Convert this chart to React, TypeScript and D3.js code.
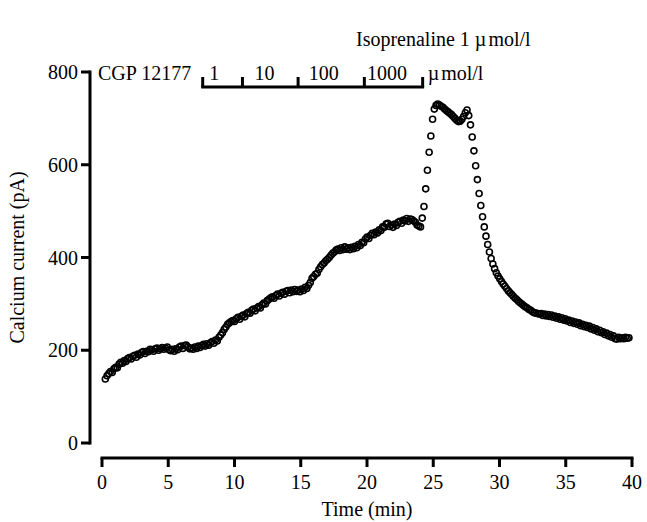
import React from "react";
import * as d3 from "d3";

// Sampling of the recording (min)
const SAMPLE_START = 0.25;
const SAMPLE_INTERVAL = 0.13;

// Calcium current (pA), one value per sample
const currentValues: number[] = [
  138, 145, 150, 154, 152, 160, 163, 162, 170, 174,
  172, 178, 176, 182, 184, 181, 187, 189, 185, 192,
  190, 195, 197, 193, 198, 197, 202, 201, 198, 203,
  205, 200, 203, 206, 202, 205, 207, 201, 199, 202,
  198, 203, 201, 207, 209, 204, 210, 211, 207, 203,
  205, 202, 207, 204, 209, 206, 210, 213, 209, 214,
  211, 216, 219, 215, 222, 220, 228, 233, 238, 245,
  250, 256, 259, 262, 264, 262, 268, 271, 267, 273,
  276, 272, 279, 282, 280, 286, 289, 285, 291, 294,
  291, 298, 302, 300, 307, 310, 313, 315, 312, 318,
  321, 317, 323, 325, 321, 327, 329, 324, 330, 326,
  331, 327, 330, 326, 332, 329, 336, 333, 340, 346,
  355, 359, 364, 366, 374, 380, 385, 388, 393, 396,
  400, 405, 409, 412, 416, 418, 415, 421, 417, 423,
  418, 421, 417, 422, 419, 424, 421, 428, 426, 433,
  432, 440, 444, 441, 448, 452, 449, 455, 453, 460,
  458, 466, 465, 472, 474, 467, 470, 465, 472, 469,
  476, 478, 474, 481, 479, 484, 478, 483, 482, 479,
  476, 470, 468, 466,
  485, 510, 548, 588, 627, 662, 698, 720, 728, 731,
  729, 726, 724, 720, 717, 714, 711, 708, 704, 700,
  696, 693, 694, 698, 704, 712, 718, 706, 686,
  660, 630, 598, 568, 538, 512, 488, 466, 446, 428,
  412, 398, 386, 376, 367, 360, 354, 348, 343, 338,
  333, 328, 324, 320, 316, 312, 309, 305, 302, 299,
  296, 293, 291, 288, 286, 283, 281, 280, 279, 278,
  279, 275, 278, 274, 277, 273, 276, 271, 274, 269,
  272, 267, 270, 265, 268, 263, 265, 260, 263, 258,
  261, 256, 259, 253, 256, 251, 254, 249, 252, 246,
  249, 243, 246, 240, 243, 238, 240, 234, 237, 231,
  234, 228, 231, 225, 224, 228, 225, 227, 225, 228, 226, 227,
];

const xTicks = [0, 5, 10, 15, 20, 25, 30, 35, 40];
const yTicks = [0, 200, 400, 600, 800];

// CGP 12177 application periods (min) and concentrations (µmol/l)
const cgpBoundaries = [7.6, 10.6, 14.8, 19.8, 24.2];
const cgpLabels = ["1", "10", "100", "1000"];
const cgpLabelTimes = [8.1, 11.5, 15.6, 20.0];

const W = 647;
const H = 522;
const FONT = "'Liberation Serif', 'Times New Roman', Times, serif";

export default function App() {
  const x = d3.scaleLinear().domain([0, 40]).range([102, 632]);
  const y = d3.scaleLinear().domain([0, 800]).range([443, 72]);
  const xAxisY = 458;
  const yAxisX = 90;
  const points = currentValues.map((v, i) => ({
    t: SAMPLE_START + i * SAMPLE_INTERVAL,
    v,
  }));
  const bracketY = 87;
  const bracketTop = 77;

  return (
    <svg
      width={W}
      height={H}
      style={{ position: "absolute", left: 0, top: 0, background: "#fff" }}
      fontFamily={FONT}
    >
      <rect width={W} height={H} fill="#fff" />
      {/* Y axis */}
      <line x1={yAxisX} x2={yAxisX} y1={y(800) - 1.5} y2={y(0) + 1.5} stroke="#000" strokeWidth={3} />
      {yTicks.map((t) => (
        <g key={"y" + t}>
          <line x1={yAxisX - 9} x2={yAxisX} y1={y(t)} y2={y(t)} stroke="#000" strokeWidth={3} />
          <text x={yAxisX - 12} y={y(t)} dy="0.35em" textAnchor="end" fontSize={20}>
            {t}
          </text>
        </g>
      ))}
      <text
        transform={`translate(24,${(y(0) + y(800)) / 2}) rotate(-90)`}
        textAnchor="middle"
        fontSize={20}
      >
        Calcium current (pA)
      </text>
      {/* X axis */}
      <line x1={x(0) - 1.5} x2={x(40) + 1.5} y1={xAxisY} y2={xAxisY} stroke="#000" strokeWidth={3} />
      {xTicks.map((t) => (
        <g key={"x" + t}>
          <line x1={x(t)} x2={x(t)} y1={xAxisY} y2={xAxisY + 9} stroke="#000" strokeWidth={3} />
          <text x={x(t)} y={xAxisY + 31} textAnchor="middle" fontSize={20}>
            {t}
          </text>
        </g>
      ))}
      <text x={(x(0) + x(40)) / 2} y={516} textAnchor="middle" fontSize={20}>
        Time (min)
      </text>
      {/* Annotations */}
      <text x={356} y={46} fontSize={20}>
        Isoprenaline 1 µ<tspan dx={2}>mol/l</tspan>
      </text>
      <text x={98} y={80} fontSize={20}>
        CGP 12177
      </text>
      <line
        x1={x(cgpBoundaries[0]) - 1.5}
        x2={x(cgpBoundaries[cgpBoundaries.length - 1]) + 1.5}
        y1={bracketY}
        y2={bracketY}
        stroke="#000"
        strokeWidth={3}
      />
      {cgpBoundaries.map((b) => (
        <line key={"b" + b} x1={x(b)} x2={x(b)} y1={bracketTop} y2={bracketY} stroke="#000" strokeWidth={3} />
      ))}
      {cgpLabels.map((l, i) => (
        <text key={"l" + l} x={x(cgpLabelTimes[i])} y={80} fontSize={20}>
          {l}
        </text>
      ))}
      <text x={x(cgpBoundaries[cgpBoundaries.length - 1]) + 5} y={80} fontSize={20}>
        µ<tspan dx={2}>mol/l</tspan>
      </text>
      {/* Data */}
      {points.map((p, i) => (
        <circle
          key={i}
          cx={x(p.t)}
          cy={y(p.v)}
          r={3}
          fill="none"
          stroke="#000"
          strokeWidth={1.6}
        />
      ))}
    </svg>
  );
}
